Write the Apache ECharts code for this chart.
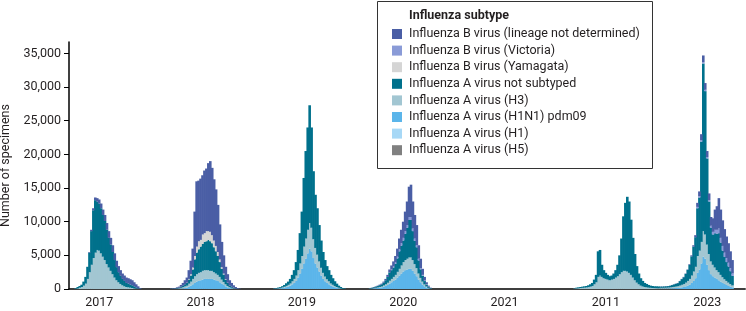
<!DOCTYPE html>
<html>
<head>
<meta charset="utf-8">
<script src="https://cdn.jsdelivr.net/npm/echarts@6/dist/echarts.min.js"></script>
<style>
  html, body { margin: 0; padding: 0; background: #fff; }
  #chart { width: 746px; height: 311px; }
</style>
</head>
<body>
<div id="chart"></div>
<script>
const weekCount = 347;
const yearLabels = ['2017', '2018', '2019', '2020', '2021', '2011', '2023'];
const yearWeeks = [15, 67, 119, 171, 223, 275, 327];
const yTicks = [0, 5000, 10000, 15000, 20000, 25000, 30000, 35000];

// first week of each season block, values below follow this order
const seasonStarts = [3, 52, 105, 154, 259, 303];

const bUndetermined = [
  [0, 0, 0, 0, 0, 0, 0, 100, 200, 300, 400, 500, 600, 700, 800, 900, 1000, 1000, 1000, 1000, 1000, 950, 900, 850, 800, 800, 800, 800, 800, 750, 600, 450, 300, 100],
  [40, 60, 60, 110, 150, 270, 420, 600, 750, 1300, 2000, 2800, 6600, 9700, 9000, 9100, 8800, 9300, 9300, 10100, 10500, 10000, 9100, 8400, 7000, 5200, 3750, 2700, 1820, 1260, 780, 540, 350, 190, 100, 50],
  [],
  [10, 20, 40, 50, 60, 80, 100, 150, 200, 300, 450, 600, 750, 950, 1200, 1600, 2000, 2400, 2900, 3500, 4500, 4800, 4000, 3500, 3000, 2000, 1400, 900, 550, 300, 150, 60],
  [],
  [20, 20, 20, 20, 20, 20, 20, 20, 30, 30, 30, 30, 50, 50, 50, 100, 150, 200, 300, 600, 700, 900, 1000, 1000, 900, 1000, 1300, 2000, 3000, 3500, 4500, 4200, 3800, 3500, 3200, 2900, 2500, 2000]
];
const bVictoria = [
  [],
  [],
  [],
  [0, 0, 0, 0, 0, 0, 0, 0, 0, 0, 0, 100, 150, 200, 250, 300, 350, 400, 400, 400, 450, 450, 400, 350, 300, 250, 180, 120, 70, 40, 0, 0],
  [],
  [0, 0, 0, 0, 0, 0, 0, 0, 0, 0, 0, 0, 0, 0, 0, 0, 0, 0, 0, 200, 200, 200, 200, 200, 200, 200, 300, 400, 500, 600, 700, 700, 700, 650, 600, 550, 450, 350]
];
const bYamagata = [
  [],
  [0, 0, 0, 0, 0, 0, 0, 0, 50, 100, 200, 300, 500, 900, 1200, 1000, 1400, 1300, 1500, 1300, 1400, 1200, 1000, 800, 600, 400, 250, 150, 80, 40, 0, 0, 0, 0, 0, 0],
  [],
  [],
  [],
  []
];
const aNotSubtyped = [
  [100, 200, 250, 340, 600, 1000, 1800, 2900, 5000, 7100, 7800, 7200, 7000, 6700, 6200, 5800, 5100, 4400, 3900, 3300, 2600, 1950, 1500, 1200, 950, 800, 600, 550, 450, 400, 300, 190, 70, 40],
  [20, 30, 40, 60, 80, 150, 200, 300, 400, 600, 900, 1400, 2500, 3200, 3500, 3800, 4000, 4200, 4300, 4500, 4400, 4100, 3700, 3300, 2800, 2200, 1600, 1100, 700, 450, 250, 180, 100, 50, 30, 10],
  [50, 70, 100, 130, 190, 270, 390, 480, 680, 950, 1300, 2000, 3000, 4500, 6600, 10200, 13000, 15200, 17500, 14900, 10100, 7900, 6900, 5400, 4050, 3100, 2450, 1950, 1650, 1270, 970, 700, 500, 310, 190, 100, 60],
  [40, 90, 120, 160, 200, 260, 320, 420, 600, 870, 1220, 1300, 1400, 1650, 2000, 2600, 2950, 3200, 3900, 4600, 5550, 5550, 4300, 3450, 3100, 1950, 1270, 880, 500, 290, 180, 70],
  [50, 100, 130, 150, 180, 200, 220, 270, 350, 450, 700, 1100, 3800, 3800, 1800, 1200, 900, 700, 600, 600, 800, 1100, 1700, 2800, 5000, 8100, 10100, 11100, 10600, 8200, 5900, 3900, 2450, 1600, 1100, 820, 600, 500, 400, 320, 300, 260, 270, 260],
  [180, 180, 190, 200, 210, 240, 300, 360, 400, 450, 650, 840, 1000, 1300, 1650, 2100, 2850, 3700, 4400, 7100, 7900, 14900, 24900, 21300, 12800, 7800, 5000, 4500, 5100, 5400, 5800, 4800, 3950, 3300, 2800, 2400, 1920, 1420]
];
const aH3 = [
  [50, 100, 200, 300, 500, 800, 1500, 2500, 3600, 4600, 5400, 5800, 5700, 5300, 4800, 4300, 3700, 3200, 2700, 2200, 1700, 1300, 1000, 750, 550, 400, 300, 250, 200, 150, 100, 60, 30, 10],
  [20, 30, 40, 60, 80, 120, 180, 250, 300, 450, 600, 800, 1000, 1100, 1200, 1200, 1300, 1300, 1300, 1300, 1200, 1200, 1100, 1000, 900, 800, 600, 450, 300, 200, 120, 80, 50, 30, 10, 0],
  [20, 30, 50, 70, 90, 130, 180, 240, 320, 450, 600, 800, 1100, 1500, 1900, 2500, 3000, 3500, 3800, 3500, 2800, 2300, 1900, 1500, 1150, 900, 700, 550, 450, 330, 250, 180, 120, 80, 50, 20, 10],
  [20, 30, 50, 70, 90, 110, 130, 180, 250, 330, 430, 500, 600, 700, 850, 1000, 1200, 1400, 1500, 1600, 1700, 1700, 1600, 1400, 1200, 900, 650, 450, 280, 150, 70, 30],
  [50, 100, 120, 150, 170, 200, 230, 280, 350, 450, 700, 1000, 1800, 2000, 1800, 1600, 1500, 1400, 1300, 1400, 1500, 1700, 1900, 2200, 2500, 2700, 2700, 2600, 2400, 2100, 1700, 1300, 950, 700, 500, 380, 300, 250, 200, 180, 150, 140, 130, 120],
  [120, 120, 120, 130, 140, 150, 180, 200, 230, 260, 320, 380, 450, 550, 700, 850, 1100, 1400, 1700, 2500, 2800, 3200, 3800, 3600, 3000, 2400, 1900, 1700, 1500, 1300, 1200, 1000, 850, 700, 600, 500, 380, 280]
];
const aH1N1 = [
  [],
  [0, 0, 10, 20, 40, 60, 100, 150, 200, 350, 500, 700, 900, 1100, 1200, 1300, 1400, 1500, 1500, 1500, 1500, 1500, 1400, 1300, 1200, 1000, 800, 600, 400, 250, 150, 100, 50, 30, 10, 0],
  [30, 50, 70, 100, 140, 200, 280, 380, 500, 700, 900, 1200, 1700, 2300, 3000, 3800, 4500, 5300, 6000, 5600, 4600, 3800, 3200, 2600, 2000, 1500, 1150, 900, 700, 500, 380, 270, 180, 110, 60, 30, 10],
  [30, 60, 90, 120, 150, 200, 250, 350, 450, 600, 800, 1000, 1200, 1400, 1700, 2000, 2300, 2600, 2800, 2900, 3000, 3000, 2700, 2300, 1900, 1400, 1000, 650, 400, 220, 100, 40],
  [],
  [60, 60, 70, 70, 80, 90, 100, 120, 140, 160, 200, 250, 300, 400, 500, 650, 900, 1200, 1600, 2400, 2900, 3800, 4800, 4500, 3600, 2800, 2200, 1900, 1700, 1500, 1300, 1100, 900, 750, 600, 450, 350, 250]
];
const aH1 = [[], [], [], [], [], []];
const aH5 = [[], [], [], [], [], []];

function spread(seasons) {
  const out = new Array(weekCount).fill(0);
  seasons.forEach((vals, s) => {
    vals.forEach((v, k) => { out[seasonStarts[s] + k] = v; });
  });
  return out;
}

// bottom to top of the stack
const subtypes = [
  { name: 'Influenza A virus (H5)', color: '#808080', data: aH5 },
  { name: 'Influenza A virus (H1)', color: '#a7d8f6', data: aH1 },
  { name: 'Influenza A virus (H1N1) pdm09', color: '#5bb5ea', data: aH1N1 },
  { name: 'Influenza A virus (H3)', color: '#a2c6d2', data: aH3 },
  { name: 'Influenza A virus not subtyped', color: '#00718c', data: aNotSubtyped },
  { name: 'Influenza B virus (Yamagata)', color: '#d5d5d5', data: bYamagata },
  { name: 'Influenza B virus (Victoria)', color: '#8a9bd7', data: bVictoria },
  { name: 'Influenza B virus (lineage not determined)', color: '#4a5ea5', data: bUndetermined }
];

const weeks = Array.from({ length: weekCount }, (_, i) => String(i));
const font = 'Roboto';
const ink = '#231f20';

const chart = echarts.init(document.getElementById('chart'));
chart.setOption({
  animation: false,
  grid: { left: 69, top: 42, width: weekCount * 1.9487, bottom: 22, containLabel: false, outerBoundsMode: 'none' },
  graphic: [
    { type: 'rect', shape: { x: 377.5, y: 1.5, width: 275, height: 167 }, style: { fill: '#fff', stroke: '#333', lineWidth: 1 }, z: 1 },
    { type: 'text', x: 409, y: 16, style: { text: 'Influenza subtype', font: 'bold 12.5px Roboto', fill: ink, textVerticalAlign: 'middle' }, z: 2 }
  ],
  legend: {
    data: subtypes.map(s => s.name).reverse(),
    orient: 'vertical',
    left: 392,
    top: 26,
    padding: 0,
    itemWidth: 10,
    itemHeight: 10,
    itemGap: 0.6,
    icon: 'rect',
    selectedMode: false,
    textStyle: { fontFamily: font, fontSize: 12.5, color: ink, lineHeight: 16, padding: [0, 0, 0, 2] }
  },
  xAxis: {
    type: 'category',
    data: weeks,
    boundaryGap: true,
    axisLine: { lineStyle: { color: '#000', width: 1.5 } },
    axisTick: { alignWithLabel: true, length: 5, lineStyle: { color: '#000' }, interval: (i) => yearWeeks.includes(i) },
    axisLabel: {
      interval: (i) => yearWeeks.includes(i),
      formatter: (v, i) => yearLabels[yearWeeks.indexOf(i)] || '',
      fontFamily: font, fontSize: 12.5, color: ink, margin: 7
    }
  },
  yAxis: {
    type: 'value',
    min: 0,
    max: 36700,
    name: 'Number of specimens',
    nameLocation: 'middle',
    nameGap: 56,
    nameTextStyle: { fontFamily: font, fontSize: 12.5, color: ink },
    splitLine: { show: false },
    axisLine: { show: true, lineStyle: { color: '#000', width: 1.5 } },
    axisTick: { show: true, length: 5, lineStyle: { color: '#000' }, customValues: yTicks },
    axisLabel: {
      customValues: yTicks,
      formatter: (v) => v.toLocaleString('en-US'),
      fontFamily: font, fontSize: 12.5, color: ink, margin: 8
    }
  },
  series: subtypes.map(s => ({
    name: s.name,
    type: 'bar',
    stack: 'total',
    barWidth: 2.6,
    itemStyle: { color: s.color },
    data: spread(s.data)
  }))
});
</script>
</body>
</html>
